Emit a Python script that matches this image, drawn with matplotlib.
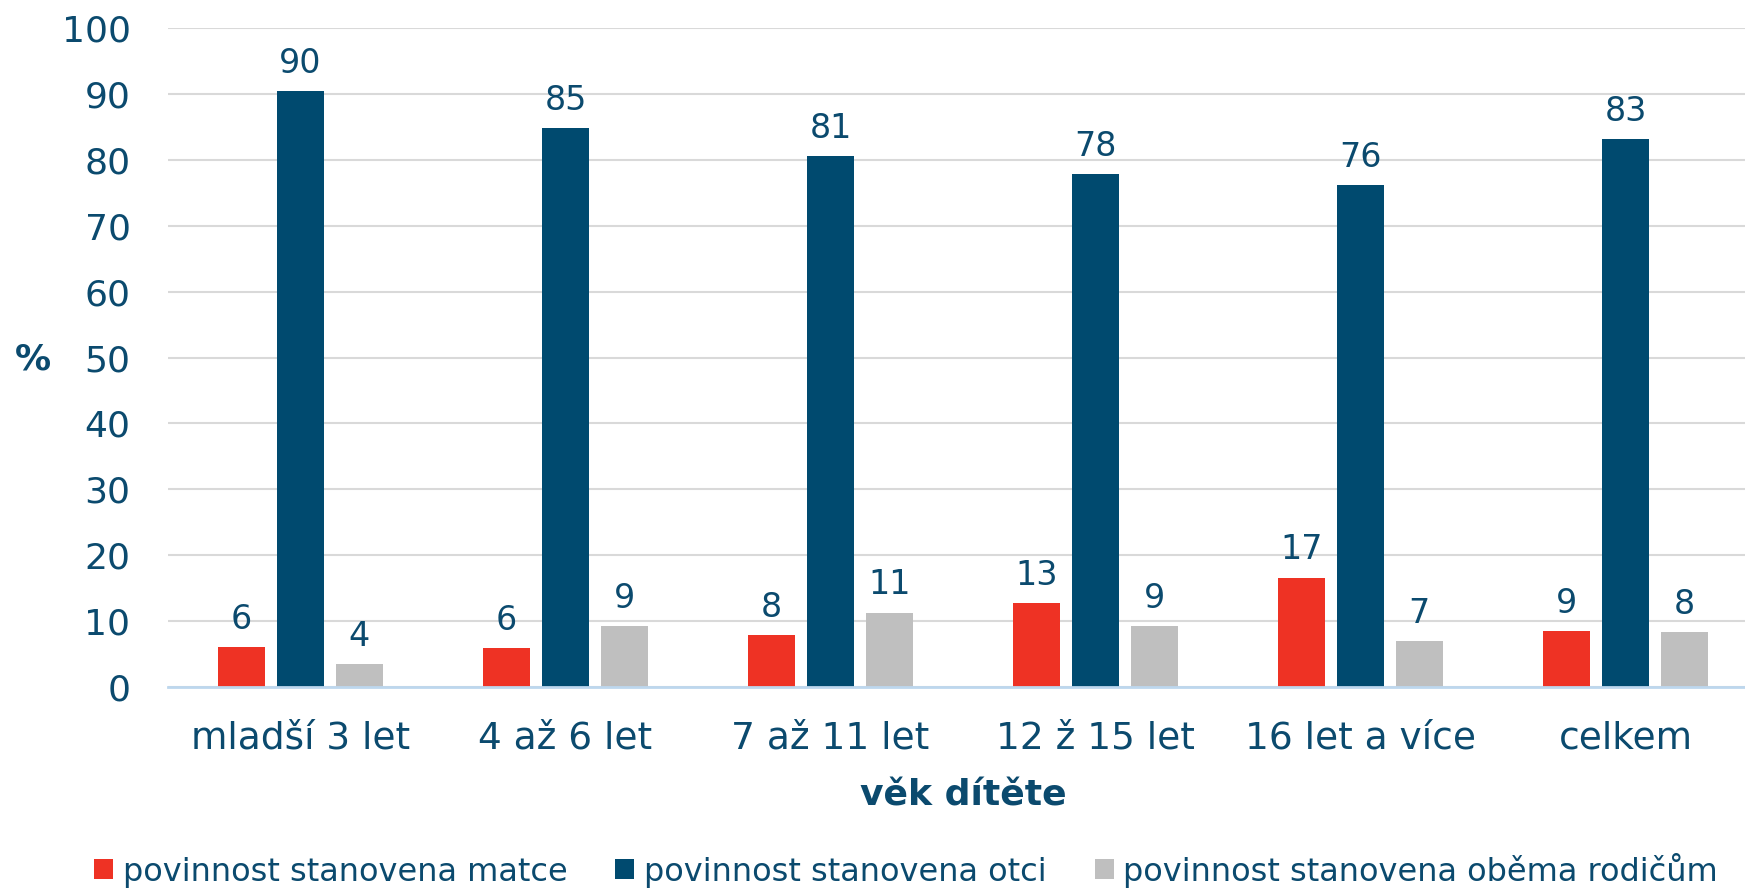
import matplotlib
matplotlib.use('Agg')
import matplotlib.pyplot as plt
import numpy as np

# Age groups of the child
categories = ["mladší 3 let", "4 až 6 let", "7 až 11 let", "12 ž 15 let", "16 let a více", "celkem"]

# Share (%) by who the maintenance duty was assigned to
matce = [6.1, 5.9, 7.9, 12.8, 16.6, 8.5]
otci = [90.4, 84.8, 80.6, 77.9, 76.2, 83.1]
obema = [3.5, 9.3, 11.3, 9.3, 7.0, 8.3]

# Rounded values shown above the bars
matce_lbl = [6, 6, 8, 13, 17, 9]
otci_lbl = [90, 85, 81, 78, 76, 83]
obema_lbl = [4, 9, 11, 9, 7, 8]

series_names = ["povinnost stanovena matce", "povinnost stanovena otci", "povinnost stanovena oběma rodičům"]

text_col = '#0B4A6E'
colors = ['#EE3224', '#004A6F', '#BFBFBF']

fig = plt.figure(figsize=(17.45, 8.9), dpi=100)
ax = fig.add_axes([168 / 1745, 1 - 687 / 890, 1590 / 1745, 659 / 890])

x = np.arange(len(categories))
width = 0.176
step = 0.222

for off, vals, lbls, col, name in zip([-step, 0, step], [matce, otci, obema],
                                       [matce_lbl, otci_lbl, obema_lbl], colors, series_names):
    bars = ax.bar(x + off, vals, width, color=col, label=name, zorder=3)
    ax.bar_label(bars, labels=[str(v) for v in lbls], padding=8, fontsize=24, color=text_col)

ax.set_xlim(-0.5, len(categories) - 0.5)
ax.set_ylim(0, 100)
ax.set_yticks(range(0, 101, 10))
ax.set_xticks(x)
ax.set_xticklabels(categories)
ax.tick_params(axis='y', length=0, pad=27, labelsize=26, labelcolor=text_col)
ax.tick_params(axis='x', length=0, pad=24, labelsize=27, labelcolor=text_col)

ax.grid(axis='y', color='#D9D9D9', linewidth=1.5, zorder=0)
for s in ['top', 'right', 'left']:
    ax.spines[s].set_visible(False)
ax.spines['bottom'].set_color('#BDD7EE')
ax.spines['bottom'].set_linewidth(2)
ax.spines['bottom'].set_zorder(4)

ax.set_xlabel("věk dítěte", fontsize=26, fontweight='bold', color=text_col, labelpad=16)
fig.text(33 / 1745, 1 - 359 / 890, "%", fontsize=26, fontweight='bold', color=text_col,
         ha='center', va='center')

leg = fig.legend(loc='center', bbox_to_anchor=(906 / 1745, 1 - 870 / 890), ncol=3, frameon=False,
                 fontsize=23, handlelength=0.6, handleheight=0.6, handletextpad=0.3,
                 columnspacing=1.5, borderaxespad=0)
for t in leg.get_texts():
    t.set_color(text_col)

fig.savefig('out.png', dpi=100)
